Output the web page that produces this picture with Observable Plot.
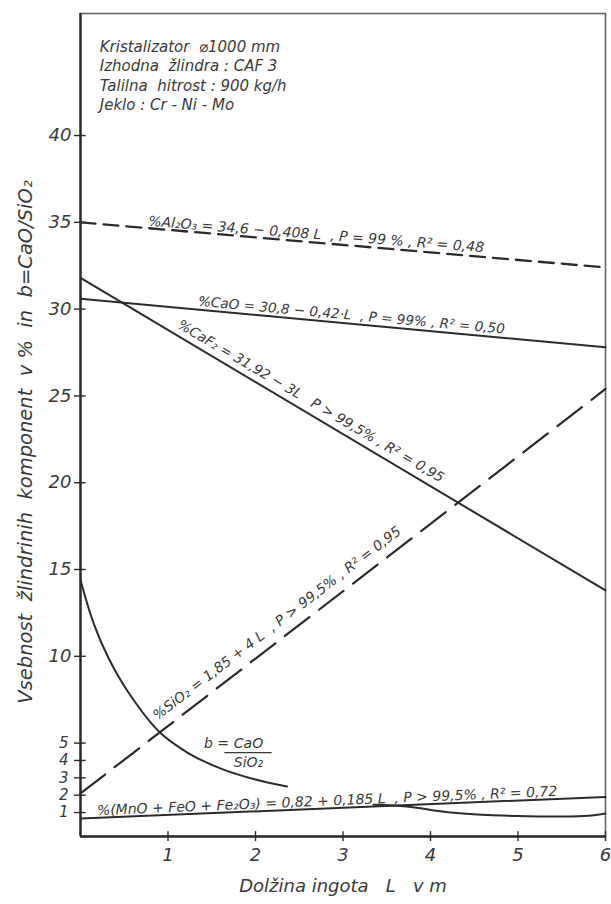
<!DOCTYPE html>
<html>
<head>
<meta charset="utf-8">
<script src="https://cdn.jsdelivr.net/npm/d3@7"></script>
<script src="https://cdn.jsdelivr.net/npm/@observablehq/plot@0.6"></script>
<style>
  html, body { margin: 0; padding: 0; background: #fff; }
  #chart svg text { font-style: italic; white-space: pre; }
</style>
</head>
<body>
<div id="chart"></div>
<script>
// ---- data ----
const xTicks = [1, 2, 3, 4, 5, 6];
const yTicksBig = [10, 15, 20, 25, 30, 35, 40];
const yTicksSmall = [1, 2, 3, 4, 5];

const lineL = [0, 6];                 // ingot length L (m), ends of the regression lines
const al2o3 = [35.0, 32.4];
const cao   = [30.6, 27.8];
const caf2  = [31.8, 13.8];
const sio2  = [2.1, 25.4];
const mno   = [0.65, 1.9];

const bL1 = [0, 0.15, 0.32, 0.55, 0.90, 1.24, 1.62, 2.0, 2.36];
const bV1 = [14.4, 11.9, 9.9, 7.9, 5.65, 4.4, 3.5, 2.9, 2.5];
const bL2 = [3.35, 3.73, 4.23, 4.99, 5.75, 6.0];
const bV2 = [1.45, 1.35, 1.0, 0.8, 0.8, 0.95];

const infoText = "Kristalizator  ⌀1000 mm\nIzhodna  žlindra : CAF 3\nTalilna  hitrost : 900 kg/h\nJeklo : Cr - Ni - Mo";
const notes = [
  {text: "%Al₂O₃ = 34,6 − 0,408 L  , P = 99 % , R² = 0,48", x: 0.77, y: 34.8, rotate: 4.5, size: 14},
  {text: "%CaO = 30,8 − 0,42·L  , P = 99% , R² = 0,50", x: 1.34, y: 30.2, rotate: 5.2, size: 13.6},
  {text: "%CaF₂ = 31,92 − 3L   P > 99,5% , R² = 0,95", x: 1.10, y: 28.95, rotate: 30.5, size: 13.8},
  {text: "%SiO₂ = 1,85 + 4 L  , P > 99,5% , R² = 0,95", x: 0.88, y: 6.3, rotate: -37.5, size: 14},
  {text: "%(MnO + FeO + Fe₂O₃) = 0,82 + 0,185 L  , P > 99,5% , R² = 0,72", x: 0.19, y: 0.85, rotate: -2.4, size: 14}
];
const bLabel = {b: "b =", num: "CaO", den: "SiO₂", xb: 1.41, yB: 5.0, xf: 1.92, yNum: 4.95, yBar: 4.45, yDen: 3.9, barHalf: 0.27};
const infoPos = {x: 0.22, y: 45.6};
const yMin = -0.38, yMax = 47.03;

const xTitle = "Dolžina ingota   L   v m";
const yTitle = "Vsebnost  žlindrinih  komponent  v %  in  b=CaO/SiO₂";

// tables built from the arrays
const pts = (xs, ys) => xs.map((x, i) => ({x, y: ys[i]}));
const ink = "#2b2b2b";
const txt = "#3a3a3a";
const font = "DejaVu Sans";

const chart = Plot.plot({
  width: 611,
  height: 904,
  marginLeft: 80,
  marginRight: 6,
  marginTop: 13,
  marginBottom: 68,
  style: {fontFamily: font, background: "#fff", color: txt},
  x: {domain: [0, 6]},
  y: {domain: [yMin, yMax]},
  marks: [
    Plot.frame({stroke: "#666", strokeWidth: 1.6}),
    Plot.ruleX([0], {stroke: ink, strokeWidth: 2.4}),
    Plot.ruleY([yMin], {stroke: ink, strokeWidth: 2.4}),
    Plot.axisY(yTicksBig, {tickSize: 6, tickPadding: 3, fontSize: 18, stroke: ink, strokeWidth: 1.4, fill: txt, label: null}),
    Plot.axisY(yTicksSmall, {tickSize: 6, tickPadding: 6, fontSize: 15, stroke: ink, strokeWidth: 1.4, fill: txt, label: null}),
    Plot.axisX(xTicks, {tickSize: 5, tickPadding: 7, fontSize: 18, stroke: ink, strokeWidth: 1.4, fill: txt, label: null}),
    Plot.ruleY(yTicksBig.concat(yTicksSmall), {x1: 0, x2: 0.065, stroke: ink, strokeWidth: 1.4}),
    Plot.ruleX(xTicks, {y1: yMin, y2: yMin + 0.28, stroke: ink, strokeWidth: 1.4}),

    Plot.line(pts(lineL, al2o3), {x: "x", y: "y", stroke: ink, strokeWidth: 2.3, strokeDasharray: "15,8"}),
    Plot.line(pts(lineL, cao), {x: "x", y: "y", stroke: ink, strokeWidth: 2}),
    Plot.line(pts(lineL, caf2), {x: "x", y: "y", stroke: ink, strokeWidth: 2}),
    Plot.line(pts(lineL, sio2), {x: "x", y: "y", stroke: ink, strokeWidth: 2.2, strokeDasharray: "31,12"}),
    Plot.line(pts(lineL, mno), {x: "x", y: "y", stroke: ink, strokeWidth: 2}),
    Plot.line(pts(bL1, bV1), {x: "x", y: "y", stroke: ink, strokeWidth: 2, curve: "catmull-rom"}),
    Plot.line(pts(bL2, bV2), {x: "x", y: "y", stroke: ink, strokeWidth: 2, curve: "catmull-rom"}),

    Plot.text(notes, {x: "x", y: "y", text: "text", rotate: "rotate", fontSize: "size", textAnchor: "start", lineAnchor: "bottom", fill: txt}),
    Plot.text([infoText], {x: infoPos.x, y: infoPos.y, text: d => d, textAnchor: "start", lineAnchor: "top", lineHeight: 1.29, fontSize: 15, fill: txt}),
    Plot.text([bLabel], {x: "xb", y: "yB", text: "b", textAnchor: "start", fontSize: 14, fill: txt}),
    Plot.text([bLabel], {x: "xf", y: "yNum", text: "num", fontSize: 14, fill: txt}),
    Plot.text([bLabel], {x: "xf", y: "yDen", text: "den", fontSize: 14, fill: txt}),
    Plot.ruleY([bLabel], {y: "yBar", x1: d => d.xf - d.barHalf, x2: d => d.xf + d.barHalf, stroke: txt, strokeWidth: 1.2}),

    Plot.text([xTitle], {frameAnchor: "bottom", dy: 55, text: d => d, fontSize: 18, fill: txt}),
    Plot.text([yTitle], {frameAnchor: "left", textAnchor: "middle", dx: -55, dy: 17, rotate: -90, text: d => d, fontSize: 19.5, fill: txt})
  ]
});
document.getElementById("chart").appendChild(chart);
</script>
</body>
</html>
